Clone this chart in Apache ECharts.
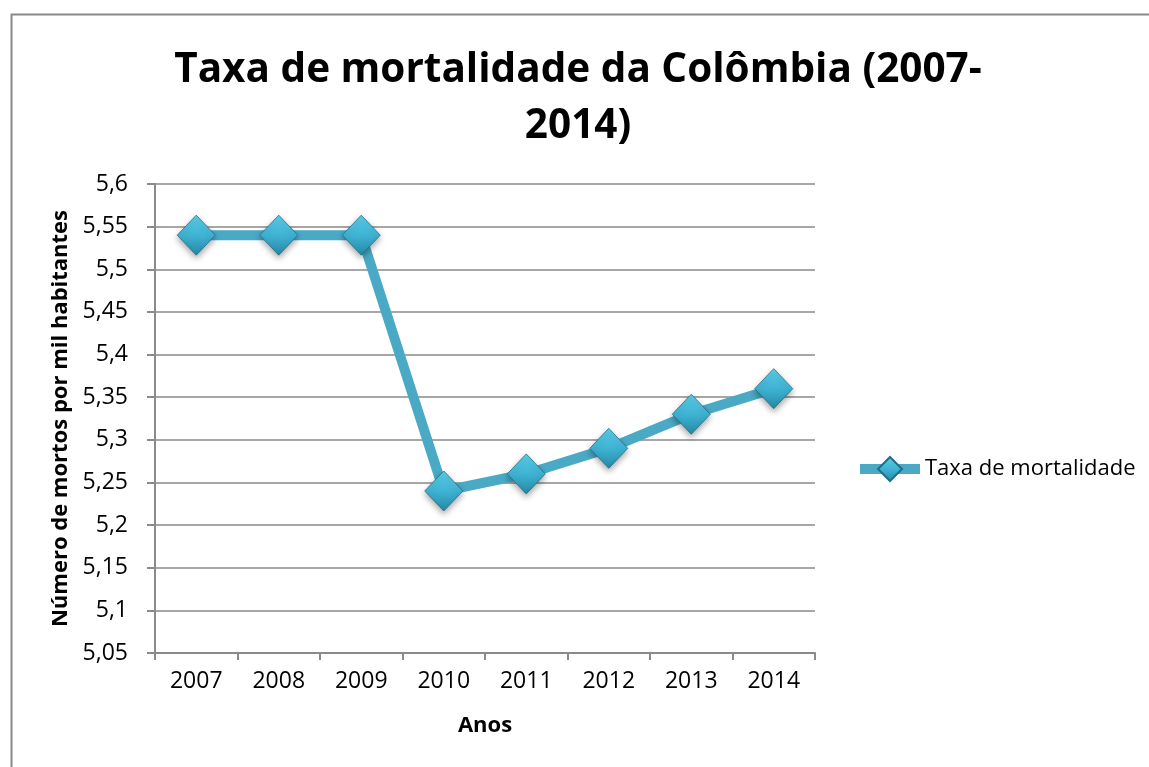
<!DOCTYPE html>
<html>
<head>
<meta charset="utf-8">
<script src="https://cdn.jsdelivr.net/npm/echarts@6/dist/echarts.min.js"></script>
<style>html,body{margin:0;padding:0;background:#fff;}#c{width:1149px;height:767px;}</style>
</head>
<body>
<div id="c"></div>
<script>
const categories = ['2007','2008','2009','2010','2011','2012','2013','2014'];
const taxaMortalidade = [5.54, 5.54, 5.54, 5.24, 5.26, 5.29, 5.33, 5.36];
const seriesName = 'Taxa de mortalidade';
const yMin = 5.05, yMax = 5.6, yStep = 0.05;

const F = '"Open Sans", sans-serif';
const chart = echarts.init(document.getElementById('c'));
const markerColor = new echarts.graphic.LinearGradient(0, 0, 0, 1, [
  {offset: 0, color: '#5ccdea'},
  {offset: 0.5, color: '#3fb3d3'},
  {offset: 1, color: '#2688a6'}
]);
chart.setOption({
  backgroundColor: '#fff',
  animation: false,
  graphic: [{
    type: 'rect', left: 9, top: 12, silent: true,
    shape: {width: 1160, height: 780},
    style: {fill: 'none', stroke: '#8a8a8a', lineWidth: 2}
  }],
  title: {
    text: 'Taxa de mortalidade da Colômbia (2007-\n2014)',
    left: 573, top: 37, textAlign: 'center',
    textStyle: {fontFamily: F, fontWeight: 'bold', fontSize: 40.5, color: '#000', lineHeight: 56}
  },
  legend: {
    left: 850, top: 451,
    itemWidth: 60, itemHeight: 30, itemGap: 0,
    lineStyle: {width: 10, color: '#4aaac6'},
    textStyle: {fontFamily: F, fontSize: 22, color: '#000'},
    data: [{name: seriesName}]
  },
  grid: {left: 155, right: 334, top: 184, bottom: 114, containLabel: false},
  xAxis: {
    type: 'category', data: categories, boundaryGap: true,
    name: 'Anos', nameLocation: 'middle', nameGap: 62,
    nameTextStyle: {fontFamily: F, fontWeight: 'bold', fontSize: 22, color: '#000'},
    axisLine: {lineStyle: {color: '#8a8a8a', width: 2}},
    axisTick: {show: true, length: 7, lineStyle: {color: '#8a8a8a', width: 2}},
    axisLabel: {fontFamily: F, fontSize: 23, color: '#000', margin: 17}
  },
  yAxis: {
    type: 'value', min: yMin, max: yMax, interval: yStep,
    name: 'Número de mortos por mil habitantes', nameLocation: 'middle', nameGap: 83,
    nameTextStyle: {fontFamily: F, fontWeight: 'bold', fontSize: 22, color: '#000'},
    axisLine: {show: true, lineStyle: {color: '#8a8a8a', width: 2}},
    axisTick: {show: true, length: 8, lineStyle: {color: '#8a8a8a', width: 2}},
    splitLine: {lineStyle: {color: '#8a8a8a', width: 1.5}},
    axisLabel: {fontFamily: F, fontSize: 23, color: '#000', margin: 27,
      formatter: v => String(+v.toFixed(2)).replace('.', ',')}
  },
  series: [{
    name: seriesName, type: 'line', data: taxaMortalidade,
    symbol: 'diamond', symbolSize: [38, 40],
    lineStyle: {color: '#4aaac6', width: 10},
    itemStyle: {color: markerColor, borderColor: '#1f6f88', borderWidth: 0.8,
      shadowColor: 'rgba(0,0,0,0.35)', shadowBlur: 6, shadowOffsetY: 3},
    z: 3
  }]
});
</script>
</body>
</html>
